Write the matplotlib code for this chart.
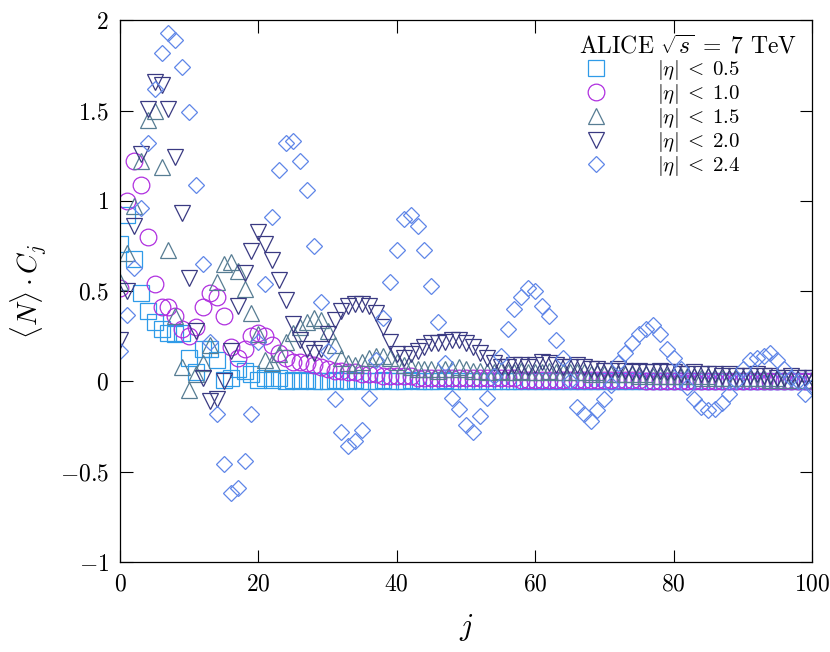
import numpy as np
import matplotlib
matplotlib.use("agg")
import matplotlib.pyplot as plt
from matplotlib import rcParams
from matplotlib.ticker import FuncFormatter

rcParams['font.family'] = "cmr10"
rcParams['mathtext.fontset'] = "cm"
rcParams['axes.formatter.use_mathtext'] = True
rcParams['axes.unicode_minus'] = True

j_vals = np.arange(0, 101)

eta_05 = [0.76, 0.92, 0.68, 0.49, 0.39, 0.33, 0.29, 0.27, 0.26, 0.27,
          0.13, 0.05, 0.18, 0.18, 0.12, 0.01, 0.02, 0.07, 0.06, 0.04,
          0.01, 0.02, 0.01, 0.02, 0.00, 0.01, 0.00, 0.01, 0.00, 0.00,
          0.00, 0.01, 0.00, 0.00, 0.01, 0.00, 0.00, 0.00, 0.01, 0.00,
          0.00, 0.00, 0.01, 0.00, 0.00, 0.00, 0.00, 0.01, 0.00, 0.00,
          0.00, 0.00, 0.00, 0.00, 0.00, 0.00, 0.00, 0.00, 0.00, 0.00,
          0.00, 0.00, 0.00, 0.00, 0.00, 0.00, 0.00, 0.00, 0.00, 0.00,
          0.00, 0.00, 0.00, 0.00, 0.00, 0.00, 0.00, 0.00, 0.00, 0.00,
          0.00, 0.00, 0.00, 0.00, 0.00, 0.00, 0.00, 0.00, 0.00, 0.00,
          0.00, 0.00, 0.00, 0.00, 0.00, 0.00, 0.00, 0.00, 0.00, 0.00,
          0.00]

eta_10 = [0.52, 1.00, 1.22, 1.09, 0.80, 0.54, 0.41, 0.41, 0.36, 0.29,
          0.25, 0.30, 0.41, 0.49, 0.47, 0.36, 0.19, 0.13, 0.18, 0.25,
          0.27, 0.25, 0.20, 0.16, 0.13, 0.11, 0.11, 0.10, 0.09, 0.08,
          0.07, 0.06, 0.06, 0.05, 0.05, 0.04, 0.04, 0.04, 0.03, 0.03,
          0.03, 0.03, 0.03, 0.02, 0.02, 0.02, 0.02, 0.02, 0.02, 0.02,
          0.02, 0.02, 0.02, 0.02, 0.02, 0.02, 0.02, 0.02, 0.01, 0.01,
          0.01, 0.01, 0.01, 0.01, 0.01, 0.01, 0.01, 0.01, 0.01, 0.01,
          0.01, 0.01, 0.01, 0.01, 0.01, 0.01, 0.00, 0.00, 0.00, 0.00,
          0.00, 0.00, 0.00, 0.00, 0.00, 0.00, 0.00, 0.00, 0.00, 0.00,
          0.00, 0.00, 0.00, 0.00, 0.00, 0.00, 0.00, 0.00, 0.00, 0.00,
          0.00]

eta_15 = [0.55, 0.71, 0.97, 1.22, 1.45, 1.50, 1.19, 0.73, 0.36, 0.08,
          -0.05, 0.04, 0.10, 0.20, 0.55, 0.65, 0.66, 0.61, 0.51, 0.38,
          0.26, 0.12, 0.10, 0.15, 0.22, 0.27, 0.30, 0.33, 0.35, 0.34,
          0.28, 0.20, 0.13, 0.10, 0.09, 0.11, 0.13, 0.14, 0.14, 0.13,
          0.11, 0.09, 0.08, 0.07, 0.07, 0.07, 0.06, 0.07, 0.07, 0.08,
          0.07, 0.06, 0.06, 0.05, 0.05, 0.06, 0.05, 0.05, 0.06, 0.05,
          0.05, 0.05, 0.06, 0.05, 0.05, 0.05, 0.05, 0.05, 0.04, 0.05,
          0.04, 0.04, 0.04, 0.04, 0.04, 0.03, 0.04, 0.03, 0.03, 0.03,
          0.03, 0.03, 0.03, 0.03, 0.02, 0.03, 0.02, 0.02, 0.02, 0.02,
          0.02, 0.02, 0.02, 0.02, 0.01, 0.02, 0.01, 0.01, 0.01, 0.01,
          0.01]

eta_20 = [0.23, 0.50, 0.86, 1.26, 1.51, 1.66, 1.64, 1.51, 1.24, 0.93,
          0.57, 0.28, 0.02, -0.11, -0.10, 0.00, 0.17, 0.42, 0.60, 0.72,
          0.83, 0.76, 0.67, 0.56, 0.45, 0.32, 0.23, 0.18, 0.16, 0.18,
          0.26, 0.34, 0.39, 0.42, 0.43, 0.43, 0.42, 0.38, 0.30, 0.22,
          0.15, 0.13, 0.15, 0.17, 0.19, 0.21, 0.21, 0.22, 0.23, 0.23,
          0.21, 0.19, 0.16, 0.13, 0.10, 0.08, 0.08, 0.09, 0.09, 0.08,
          0.09, 0.11, 0.10, 0.09, 0.08, 0.08, 0.09, 0.08, 0.07, 0.07,
          0.06, 0.06, 0.07, 0.06, 0.05, 0.06, 0.05, 0.05, 0.06, 0.05,
          0.05, 0.04, 0.04, 0.05, 0.04, 0.04, 0.04, 0.03, 0.04, 0.03,
          0.03, 0.03, 0.04, 0.03, 0.03, 0.02, 0.02, 0.03, 0.02, 0.02,
          0.02]

eta_24 = [0.17, 0.37, 0.63, 0.96, 1.32, 1.62, 1.82, 1.93, 1.89, 1.74,
          1.49, 1.09, 0.65, 0.22, -0.18, -0.46, -0.62, -0.59, -0.44, -0.18,
          0.22, 0.54, 0.91, 1.17, 1.32, 1.33, 1.22, 1.06, 0.75, 0.44,
          0.17, -0.10, -0.28, -0.36, -0.33, -0.27, -0.09, 0.12, 0.35, 0.55,
          0.73, 0.90, 0.92, 0.86, 0.73, 0.53, 0.33, 0.10, -0.09, -0.15,
          -0.24, -0.28, -0.19, -0.09, 0.03, 0.14, 0.29, 0.40, 0.47, 0.52,
          0.50, 0.42, 0.36, 0.23, 0.13, 0.00, -0.14, -0.18, -0.22, -0.16,
          -0.10, -0.02, 0.10, 0.16, 0.21, 0.26, 0.29, 0.31, 0.26, 0.18,
          0.13, 0.07, -0.03, -0.10, -0.14, -0.16, -0.15, -0.12, -0.07, 0.00,
          0.07, 0.12, 0.13, 0.14, 0.16, 0.12, 0.07, 0.02, 0.00, -0.07,
          -0.03]

series = [
    (eta_05, "s", 11, "#2f9be8", r"$|\eta|\;<\;0.5$"),
    (eta_10, "o", 12, "#b030e0", r"$|\eta|\;<\;1.0$"),
    (eta_15, "^", 11, "#577d93", r"$|\eta|\;<\;1.5$"),
    (eta_20, "v", 11, "#3a3a82", r"$|\eta|\;<\;2.0$"),
    (eta_24, "D", 8.5, "#5f86e8", r"$|\eta|\;<\;2.4$"),
]

fig = plt.figure(figsize=(8.3, 6.52), dpi=100)
ax = fig.add_axes([0.1446, 0.138, 0.8337, 0.831])

for vals, mk, ms, col, lab in series:
    ax.plot(j_vals, vals, linestyle="none", marker=mk, markersize=ms,
            markerfacecolor="none", markeredgecolor=col, markeredgewidth=0.9,
            label=lab)

ax.set_xlim(0, 100)
ax.set_ylim(-1, 2)
ax.set_xticks([0, 20, 40, 60, 80, 100])
ax.set_yticks([-1, -0.5, 0, 0.5, 1, 1.5, 2])
ax.yaxis.set_major_formatter(FuncFormatter(lambda v, p: "$%g$" % v))
ax.xaxis.set_major_formatter(FuncFormatter(lambda v, p: "$%g$" % v))
ax.tick_params(direction="in", length=9, width=0.8, top=True, right=True,
               labelsize=17, pad=8)
for sp in ax.spines.values():
    sp.set_linewidth(0.9)

ax.set_xlabel(r"$j$", fontsize=22, labelpad=12)
ax.set_ylabel(r"$\langle N\rangle \cdot C_j$", fontsize=20, labelpad=8)

leg = ax.legend(loc="upper right", frameon=False, fontsize=15,
                title=r"ALICE $\sqrt{s}\;=\;7$ TeV", title_fontsize=17,
                handlelength=1.6, handletextpad=2.1, labelspacing=0.0,
                borderaxespad=0.3, alignment="left")

plt.savefig("out.png")
